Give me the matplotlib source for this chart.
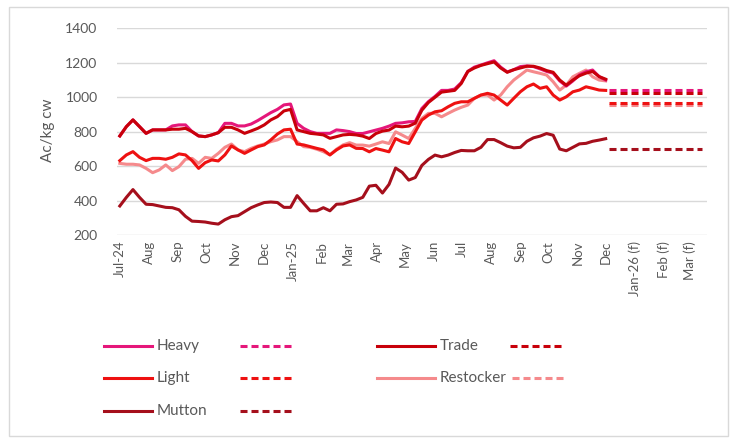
import matplotlib
matplotlib.use('Agg')
import matplotlib.pyplot as plt
import pandas as pd
from matplotlib.lines import Line2D
from matplotlib.patches import Rectangle

plt.rcParams['font.family'] = ['Lato', 'DejaVu Sans']

# weekly prices, Jul-24 .. Dec-25 (Ac/kg cw)
weeks = pd.date_range('2024-07-01', periods=75, freq='7D')

heavy = [776, 830, 869, 830, 791, 811, 811, 811, 834, 840,
         840, 801, 776, 772, 782, 795, 849, 849, 834, 834,
         845, 865, 888, 911, 930, 956, 961, 849, 820, 801,
         791, 791, 791, 811, 807, 801, 790, 790, 800, 810,
         820, 833, 849, 852, 858, 860, 935, 975, 1005, 1040,
         1040, 1048, 1085, 1150, 1175, 1187, 1200, 1212, 1175, 1147,
         1160, 1178, 1182, 1178, 1165, 1150, 1140, 1095, 1065, 1095,
         1130, 1148, 1158, 1120, 1100]
trade = [776, 830, 869, 830, 791, 811, 811, 811, 815, 815,
         820, 801, 776, 772, 782, 795, 826, 826, 811, 791,
         805, 820, 840, 869, 888, 921, 930, 811, 801, 791,
         787, 782, 762, 772, 782, 785, 782, 775, 761, 790,
         804, 810, 833, 829, 833, 850, 925, 970, 1000, 1030,
         1035, 1040, 1080, 1150, 1170, 1185, 1195, 1205, 1170, 1145,
         1160, 1170, 1180, 1180, 1170, 1155, 1145, 1100, 1070, 1100,
         1125, 1140, 1150, 1120, 1105]
light = [633, 666, 685, 652, 633, 646, 646, 641, 652, 672,
         666, 633, 588, 621, 637, 631, 666, 718, 695, 675,
         695, 714, 724, 753, 787, 811, 815, 729, 724, 714,
         704, 695, 666, 695, 718, 724, 704, 703, 684, 703,
         694, 684, 761, 742, 732, 800, 868, 897, 916, 922,
         945, 965, 974, 974, 994, 1013, 1023, 1013, 984, 955,
         994, 1032, 1061, 1077, 1052, 1061, 1013, 984, 1003, 1032,
         1042, 1061, 1052, 1042, 1040]
restocker = [617, 612, 612, 608, 588, 563, 579, 608, 575, 598,
             641, 646, 617, 652, 646, 675, 710, 729, 695, 685,
             704, 718, 729, 743, 753, 772, 772, 743, 714, 710,
             699, 685, 666, 699, 724, 737, 723, 723, 717, 729,
             742, 732, 800, 781, 761, 820, 878, 907, 907, 887,
             907, 926, 942, 955, 994, 1013, 1013, 984, 1013, 1061,
             1100, 1129, 1158, 1148, 1139, 1129, 1090, 1042, 1071, 1119,
             1139, 1158, 1119, 1100, 1095]
mutton = [370, 420, 465, 420, 380, 378, 370, 362, 360, 348,
          310, 282, 280, 277, 270, 265, 290, 308, 314, 337,
          360, 376, 390, 393, 390, 362, 362, 430, 385, 342,
          342, 360, 342, 380, 382, 395, 405, 420, 485, 490,
          445, 495, 590, 565, 520, 535, 605, 640, 665, 655,
          665, 680, 692, 690, 690, 710, 755, 755, 737, 717,
          707, 710, 745, 765, 775, 790, 780, 700, 690, 710,
          730, 733, 745, 752, 760]

# flat forecasts Jan-Mar 26
fc_span = pd.to_datetime(['2025-12-04', '2026-03-14'])
fc_heavy, fc_trade, fc_light, fc_restocker, fc_mutton = 1045, 1023, 968, 955, 700

tick_dates = pd.date_range('2024-07-01', '2026-03-01', freq='MS')
tick_labels = ['Jul-24', 'Aug', 'Sep', 'Oct', 'Nov', 'Dec', 'Jan-25', 'Feb', 'Mar',
               'Apr', 'May', 'Jun', 'Jul', 'Aug', 'Sep', 'Oct', 'Nov', 'Dec',
               'Jan-26 (f)', 'Feb (f)', 'Mar (f)']

c_heavy = '#E5177A'
c_light = '#EE1111'
c_mutton = '#A50F1C'
c_trade = '#C8000A'
c_rest = '#F58A8C'
grey = '#595959'
LW = 2.2
DASH = (2.3, 1.3)

series = [
    ('Restocker', restocker, fc_restocker, c_rest),
    ('Light', light, fc_light, c_light),
    ('Mutton', mutton, fc_mutton, c_mutton),
    ('Heavy', heavy, fc_heavy, c_heavy),
    ('Trade', trade, fc_trade, c_trade),
]

fig = plt.figure(figsize=(7.53, 4.44), dpi=100)
ax = fig.add_axes([117 / 753, 1 - 235.3 / 444, 590 / 753, (235.3 - 28.3) / 444])

for name, vals, fc, col in series:
    ax.plot(weeks, vals, color=col, lw=LW, solid_joinstyle='round')
    ax.plot(fc_span, [fc, fc], color=col, lw=LW, dashes=DASH)

ax.set_ylim(200, 1400)
ax.set_yticks(range(200, 1401, 200))
ax.set_xlim(pd.Timestamp('2024-06-28'), pd.Timestamp('2026-03-19'))
ax.set_xticks(tick_dates)
ax.set_xticklabels(tick_labels, rotation=90)
ax.grid(axis='y', color='#D9D9D9', lw=1)
ax.set_axisbelow(True)
for s in ax.spines.values():
    s.set_visible(False)
ax.tick_params(length=0, colors=grey, labelsize=9.5)
ax.tick_params(axis='y', pad=14, labelsize=10)
ax.tick_params(axis='x', pad=4)

fig.text(48 / 753, 1 - 130 / 444, 'Ac/kg cw', rotation=90, ha='center', va='center',
         color=grey, fontsize=11)

# legend drawn by hand: solid actual + dashed forecast per row
legend_rows = [
    (104, 152, 157, 240, 292, 346, 'Heavy', c_heavy),
    (104, 152, 157, 240, 292, 378, 'Light', c_light),
    (104, 152, 157, 240, 292, 411, 'Mutton', c_mutton),
    (377, 435, 440, 510, 563, 346, 'Trade', c_trade),
    (377, 435, 440, 512, 565, 378, 'Restocker', c_rest),
]
W, H = 753, 444
for x0, x1, xt, d0, d1, y, name, col in legend_rows:
    fy = 1 - y / H
    fig.add_artist(Line2D([x0 / W, x1 / W], [fy, fy], color=col, lw=LW,
                          transform=fig.transFigure))
    fig.add_artist(Line2D([d0 / W, d1 / W], [fy, fy], color=col, lw=LW, dashes=DASH,
                          transform=fig.transFigure))
    fig.text(xt / W, fy, name, color=grey, fontsize=11, va='center', ha='left')

fig.add_artist(Rectangle((9 / W, 1 - 436 / H), (728 - 9) / W, (436 - 7) / H,
                         transform=fig.transFigure, fill=False, ec='#D9D9D9', lw=1))

fig.savefig('out.png', dpi=100)
